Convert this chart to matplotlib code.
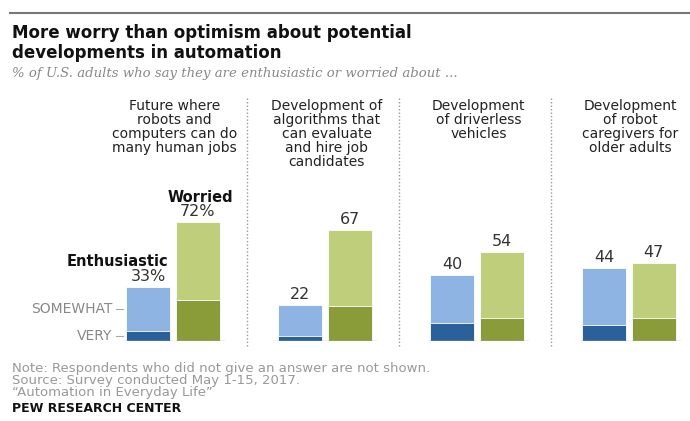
import numpy as np
import matplotlib
matplotlib.use("Agg")
import matplotlib.pyplot as plt

# data
headers = ["Future where\nrobots and\ncomputers can do\nmany human jobs",
           "Development of\nalgorithms that\ncan evaluate\nand hire job\ncandidates",
           "Development\nof driverless\nvehicles",
           "Development\nof robot\ncaregivers for\nolder adults"]
enth_total = [33, 22, 40, 44]
enth_very = [6, 3, 11, 10]
worr_total = [72, 67, 54, 47]
worr_very = [25, 21, 14, 14]
enth_labels = ["33%", "22", "40", "44"]
worr_labels = ["72%", "67", "54", "47"]

LB, DB = "#8eb4e3", "#2a619b"
LG, DG = "#bfce7b", "#8a9c3a"

W, H = 690, 421
fig = plt.figure(figsize=(W / 100, H / 100), dpi=100)

# axes placed in pixel terms: baseline at y=341, 1.65 px per point
px_per = 1.65
base = 341
ymax = 145
x0, x1 = -0.55, 3.35
pan = 152.0
left_px = 173 + pan * x0
ax = fig.add_axes([left_px / W, (H - base) / H, pan * (x1 - x0) / W, ymax * px_per / H])
ax.set_xlim(x0, x1)
ax.set_ylim(0, ymax)
ax.axis("off")

x = np.arange(4)
off, bw = 0.162, 0.29
xe, xw = x - off, x + off

ax.bar(xe, enth_total, bw, color=LB, edgecolor="white", linewidth=0.6)
ax.bar(xe, enth_very, bw, color=DB, edgecolor="white", linewidth=0.6)
ax.bar(xw, worr_total, bw, color=LG, edgecolor="white", linewidth=0.6)
ax.bar(xw, worr_very, bw, color=DG, edgecolor="white", linewidth=0.6)

for i in range(4):
    ax.plot([i - 0.33, i + 0.34], [0, 0], color="#bbbbbb", lw=1, solid_capstyle="butt")
    ax.text(xe[i], enth_total[i] + 1.8, enth_labels[i], ha="center", va="bottom",
            fontsize=11.5, color="#333333")
    ax.text(xw[i], worr_total[i] + 1.8, worr_labels[i], ha="center", va="bottom",
            fontsize=11.5, color="#333333")
    ax.text(i + 0.01, 146.5, headers[i], ha="center", va="top", fontsize=10,
            color="#222222", linespacing=1.0, clip_on=False)
    if i < 3:
        ax.plot([i + 0.49, i + 0.49], [-3, 147], color="#999999", lw=1,
                linestyle=(0, (1, 1.5)), clip_on=False)

ax.text(xe[0] + 0.13, enth_total[0] + 10.5, "Enthusiastic", ha="right", va="bottom",
        fontsize=10.5, fontweight="bold", color="#111111")
ax.text(xw[0] + 0.02, worr_total[0] + 10.5, "Worried", ha="center", va="bottom",
        fontsize=10.5, fontweight="bold", color="#111111")

# side labels for the stacked parts
ax.text(-0.40, 19.5, "SOMEWHAT", ha="right", va="center", fontsize=10, color="#888888")
ax.text(-0.40, 3.2, "VERY", ha="right", va="center", fontsize=10, color="#888888")
ax.plot([-0.375, -0.33], [19.5, 19.5], color="#aaaaaa", lw=0.8, clip_on=False)
ax.plot([-0.375, -0.33], [3.2, 3.2], color="#aaaaaa", lw=0.8, clip_on=False)

# header texts
fig.add_artist(plt.Line2D([10 / W, 1], [1 - 13 / H, 1 - 13 / H], color="#777777", lw=1.5))
fig.text(12 / W, 1 - 24 / H, "More worry than optimism about potential\ndevelopments in automation",
         ha="left", va="top", fontsize=12, fontweight="bold", color="#111111",
         linespacing=1.15)
fig.text(12 / W, 1 - 74 / H, "% of U.S. adults who say they are enthusiastic or worried about ...",
         ha="left", va="center", fontsize=9.5, style="italic", family="DejaVu Serif",
         color="#888888")

fig.text(12 / W, 1 - 362 / H,
         "Note: Respondents who did not give an answer are not shown.\n"
         "Source: Survey conducted May 1-15, 2017.\n"
         "\u201cAutomation in Everyday Life\u201d",
         ha="left", va="top", fontsize=9.5, color="#999999", linespacing=0.88)
fig.text(12 / W, 1 - 408 / H, "PEW RESEARCH CENTER", ha="left", va="center",
         fontsize=9, fontweight="bold", color="#111111")

fig.savefig("out.png", dpi=100, facecolor="white")
